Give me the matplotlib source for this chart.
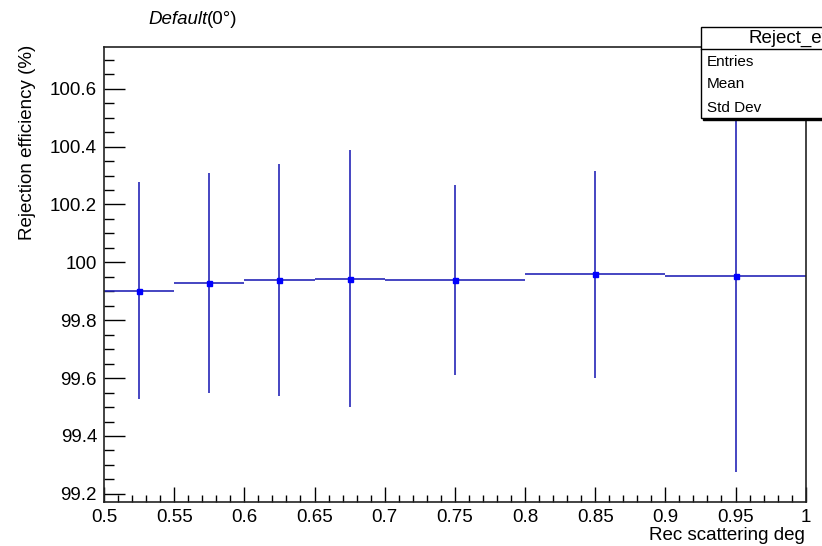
import numpy as np
import matplotlib
matplotlib.use("Agg")
import matplotlib.pyplot as plt
from matplotlib.patches import Rectangle
from matplotlib.lines import Line2D
from matplotlib.ticker import MultipleLocator, FormatStrFormatter

plt.rcParams['font.family'] = ['Liberation Sans', 'DejaVu Sans']

# bins in Rec scattering deg and the rejection efficiency per bin
bin_edges = [0.5, 0.55, 0.6, 0.65, 0.7, 0.8, 0.9, 1.0]
eff = [99.902, 99.928, 99.938, 99.944, 99.938, 99.958, 99.954]
eff_err = [0.375, 0.380, 0.401, 0.444, 0.328, 0.356, 0.680]

title_main = "Default"
title_tail = "(0°)"
xlabel = "Rec scattering deg"
ylabel = "Rejection efficiency (%)"
stat_name = "Reject_eff"
stat_rows = ["Entries", "Mean", "Std Dev"]

W, H = 822, 546
fig = plt.figure(figsize=(W / 100, H / 100), dpi=100)

def fx(px):
    return px / W

def fy(py):
    return 1 - py / H

ax = fig.add_axes([fx(104), fy(501.7), fx(805.7) - fx(104), fy(46.7) - fy(501.7)])

edges = np.array(bin_edges)
centers = 0.5 * (edges[:-1] + edges[1:])
halfw = 0.5 * (edges[1:] - edges[:-1])

ax.errorbar(centers, eff, xerr=halfw, yerr=eff_err, fmt='s', ms=3.6,
            color='#0000ff', ecolor='#2626b8', elinewidth=1.2, capsize=0)

ax.set_xlim(0.5, 1.0)
ax.set_ylim(99.173, 100.745)

ax.xaxis.set_major_locator(MultipleLocator(0.05))
ax.xaxis.set_minor_locator(MultipleLocator(0.01))
ax.yaxis.set_major_locator(MultipleLocator(0.2))
ax.yaxis.set_minor_locator(MultipleLocator(0.05))
ax.xaxis.set_major_formatter(FormatStrFormatter('%g'))
ax.yaxis.set_major_formatter(FormatStrFormatter('%g'))

ax.tick_params(axis='x', which='major', direction='in', length=10.5, width=1.0, labelsize=13.5, pad=5)
ax.tick_params(axis='x', which='minor', direction='in', length=5.3, width=1.0)
ax.tick_params(axis='y', which='major', direction='in', length=15, width=1.0, labelsize=13.5, pad=5)
ax.tick_params(axis='y', which='minor', direction='in', length=7.5, width=1.0)
ax.tick_params(top=False, right=False, which='both')
for s in ax.spines.values():
    s.set_linewidth(1.2)
    s.set_color('#222222')

# axis titles, ROOT style (at the ends of the axes)
fig.text(fx(805), fy(527), xlabel, ha='right', va='top', fontsize=13.5)
fig.text(fx(28), fy(45), ylabel, ha='center', va='top', rotation=90, fontsize=13.5)

# title: italic part + plain part
t1 = fig.text(fx(148), fy(23.5), title_main, style='italic', fontsize=13.5, va='baseline')
fig.canvas.draw()
bb = t1.get_window_extent()
fig.text(bb.x1 / W, fy(23.5), title_tail, fontsize=13.5, va='baseline')

# stats box (runs past the right edge of the picture, as in the reference)
bx0, bx1, by0, by1 = 701, 879, 27, 118
shadow = Rectangle((fx(bx0 + 2), fy(by1 + 2)), fx(bx1 - bx0), fy(by0) - fy(by1),
                   transform=fig.transFigure, facecolor='black', edgecolor='black', zorder=5)
box = Rectangle((fx(bx0), fy(by1)), fx(bx1 - bx0), fy(by0) - fy(by1),
                transform=fig.transFigure, facecolor='white', edgecolor='black', lw=1.0, zorder=6)
fig.patches.extend([shadow, box])
fig.lines.append(Line2D([fx(bx0), fx(bx1)], [fy(49), fy(49)], transform=fig.transFigure,
                        color='black', lw=1.0, zorder=7))
fig.text(fx(0.5 * (bx0 + bx1)), fy(38), stat_name, ha='center', va='center', fontsize=13.5, zorder=8)
for i, row in enumerate(stat_rows):
    fig.text(fx(707), fy(61.5 + 23 * i), row, ha='left', va='center', fontsize=11, zorder=8)

fig.savefig("out.png", dpi=100)
